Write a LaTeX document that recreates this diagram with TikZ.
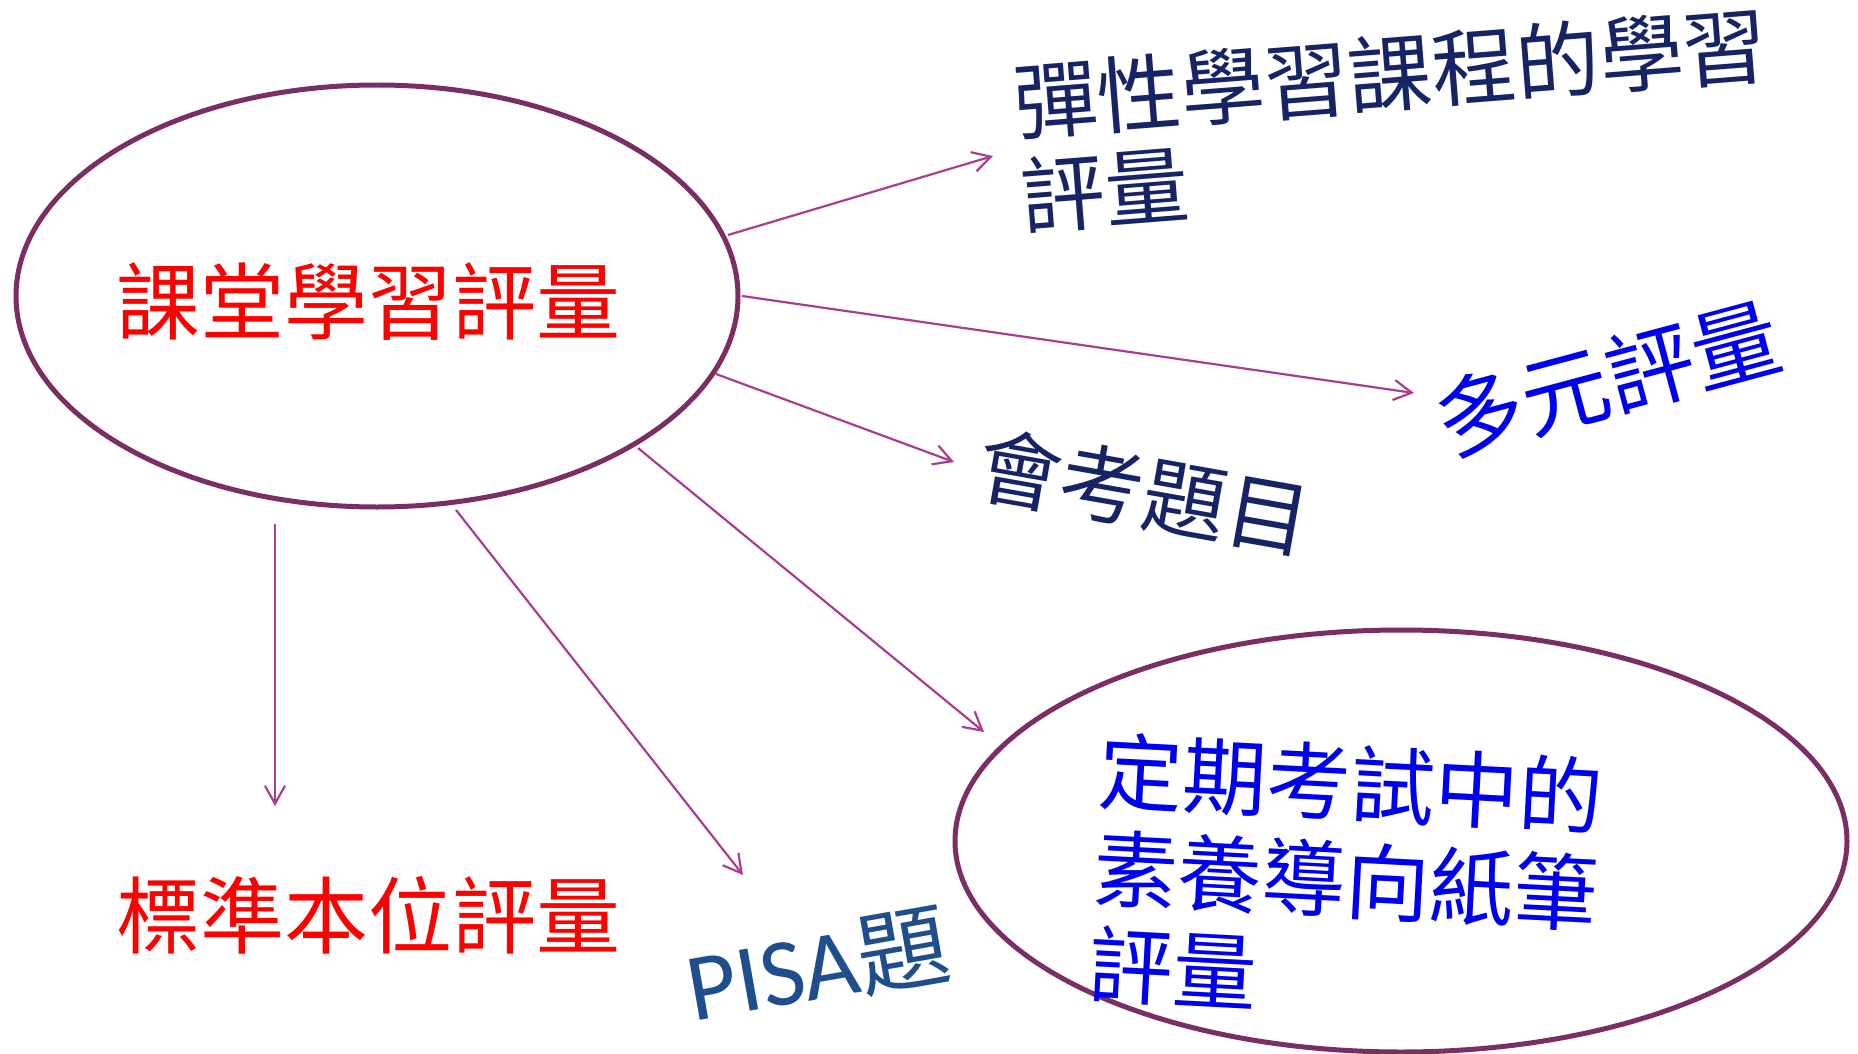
\documentclass[tikz,border=0pt]{standalone}
\usepackage{fontspec}
\usetikzlibrary{arrows.meta,shapes.geometric}
\newfontfamily\cjk{Noto Sans CJK TC}
\newfontfamily\latinsans{Carlito}
\definecolor{ellcol}{RGB}{122,46,99}
\definecolor{arrcol}{RGB}{170,62,140}
\definecolor{navytxt}{RGB}{22,36,102}
\definecolor{bluetxt}{RGB}{0,0,240}
\definecolor{redtxt}{RGB}{255,0,0}
\definecolor{pisatxt}{RGB}{31,78,140}
\tikzset{
  bubble/.style={ellipse, draw=ellcol, line width=2.5pt, inner sep=0pt},
  conn/.style={draw=arrcol, line width=1.1pt, -{Straight Barb[length=9pt,width=10pt,line width=1.1pt]}},
  lbl/.style={inner sep=0pt, font=\cjk\fontsize{42}{48}\selectfont, align=left},
}
\begin{document}
\begin{tikzpicture}[x=0.5pt,y=-0.5pt]
\useasboundingbox (0,0) rectangle (1858,1054);
% bubbles
\node[bubble, minimum width=361pt, minimum height=211pt] (e1) at (377,296) {};
\node[bubble, minimum width=446pt, minimum height=211pt] (e2) at (1401,841) {};
% labels
\node[lbl, text=redtxt] (t1) at (368,302) {課堂學習評量};
\node[lbl, text=redtxt] (t6) at (368,915) {標準本位評量};
\node[lbl, text=pisatxt, rotate=10] (t5) at (818,966) {{\latinsans\fontsize{48}{52}\selectfont PISA}{\fontsize{46}{52}\selectfont 題}};
\node[lbl, text=navytxt, rotate=4.5, font=\cjk\fontsize{42}{47}\selectfont] (t2) at (1394,120) {彈性學習課程的學習\\評量};
\node[lbl, text=bluetxt, rotate=15, font=\cjk\fontsize{44}{50}\selectfont] (t3) at (1608,379) {多元評量};
\node[lbl, text=navytxt, rotate=-10] (t4) at (1144,492) {會考題目};
\node[lbl, text=bluetxt, rotate=-3, font=\cjk\fontsize{42}{48.5}\selectfont] (t7) at (1346,880) {定期考試中的\\素養導向紙筆\\評量};
% connector end points
\coordinate (s1) at (728,235); \coordinate (g1) at (993,156);
\coordinate (s2) at (742,296); \coordinate (g2) at (1414,393);
\coordinate (s3) at (716,374); \coordinate (g3) at (954,462);
\coordinate (s4) at (638,448); \coordinate (g4) at (984,732);
\coordinate (s5) at (456,510); \coordinate (g5) at (743,875);
\coordinate (s6) at (275,524); \coordinate (g6) at (275,806);
\draw[conn] (s1) -- (g1);
\draw[conn] (s2) -- (g2);
\draw[conn] (s3) -- (g3);
\draw[conn] (s4) -- (g4);
\draw[conn] (s5) -- (g5);
\draw[conn] (s6) -- (g6);
\end{tikzpicture}
\end{document}
